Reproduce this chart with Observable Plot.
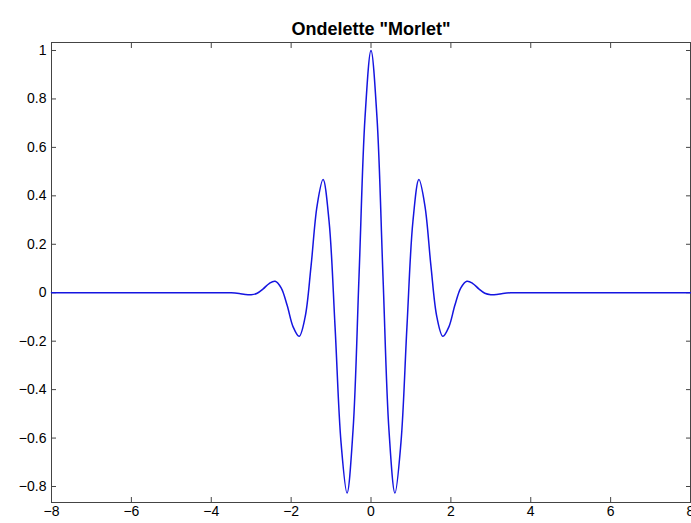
<!DOCTYPE html>
<html>
<head>
<meta charset="utf-8">
<script src="https://cdn.jsdelivr.net/npm/d3@7"></script>
<script src="https://cdn.jsdelivr.net/npm/@observablehq/plot@0.6"></script>
<style>
  html, body { margin: 0; padding: 0; background: #fff; }
</style>
</head>
<body>
<div id="chart"></div>
<script>
const title = 'Ondelette "Morlet"';

// Points (x, psi(x))
const xs = [-8, -4, -3.5, -3.3, -3.15, -3.0, -2.85, -2.7, -2.55, -2.4, -2.25, -2.1, -1.95, -1.8, -1.65, -1.5, -1.35, -1.2, -1.05, -0.9, -0.75, -0.6, -0.45, -0.3, -0.15,
            0,
            0.15, 0.3, 0.45, 0.6, 0.75, 0.9, 1.05, 1.2, 1.35, 1.5, 1.65, 1.8, 1.95, 2.1, 2.25, 2.4, 2.55, 2.7, 2.85, 3.0, 3.15, 3.3, 3.5, 4, 8];
const ys = [0, 0, 0, -0.003, -0.007, -0.008, -0.002, 0.016, 0.038, 0.047, 0.02, -0.052, -0.141, -0.18, -0.101, 0.112, 0.359, 0.467, 0.295, -0.141, -0.619, -0.827, -0.568, 0.068, 0.723,
            1,
            0.723, 0.068, -0.568, -0.827, -0.619, -0.141, 0.295, 0.467, 0.359, 0.112, -0.101, -0.18, -0.141, -0.052, 0.02, 0.047, 0.038, 0.016, -0.002, -0.008, -0.007, -0.003, 0, 0, 0];

const xTicks = [-8, -6, -4, -2, 0, 2, 4, 6, 8];
const yTicks = [-0.8, -0.6, -0.4, -0.2, 0, 0.2, 0.4, 0.6, 0.8, 1];

const data = xs.map((x, i) => ({x, y: ys[i]}));

const axisColor = "#444";
const fmt = d => String(d).replace("-", "−");

const chart = Plot.plot({
  width: 691,
  height: 523,
  marginTop: 42,
  marginBottom: 21,
  marginLeft: 51,
  marginRight: 1,
  style: {fontFamily: "'Liberation Sans', Arial, Helvetica, sans-serif", fontSize: "14px", color: "#000", background: "#fff"},
  x: {domain: [-8, 8]},
  y: {domain: [-0.866, 1.033]},
  marks: [
    Plot.frame({stroke: axisColor, strokeWidth: 1}),
    Plot.axisX(xTicks, {anchor: "bottom", tickSize: -5, tickPadding: 9, stroke: axisColor, fill: "#000", tickFormat: fmt, label: null}),
    Plot.axisX(xTicks, {anchor: "top", tickSize: -5, stroke: axisColor, tickFormat: () => "", label: null}),
    Plot.axisY(yTicks, {anchor: "left", tickSize: -5, tickPadding: 10, stroke: axisColor, fill: "#000", tickFormat: fmt, label: null}),
    Plot.axisY(yTicks, {anchor: "right", tickSize: -5, stroke: axisColor, tickFormat: () => "", label: null}),
    Plot.line(data, {x: "x", y: "y", stroke: "#1515e0", strokeWidth: 1.5, curve: "catmull-rom"}),
    Plot.text([title], {frameAnchor: "top", dy: -20, fontWeight: "bold", fontSize: 18, fill: "#000"})
  ]
});
document.getElementById("chart").appendChild(chart);
</script>
</body>
</html>
